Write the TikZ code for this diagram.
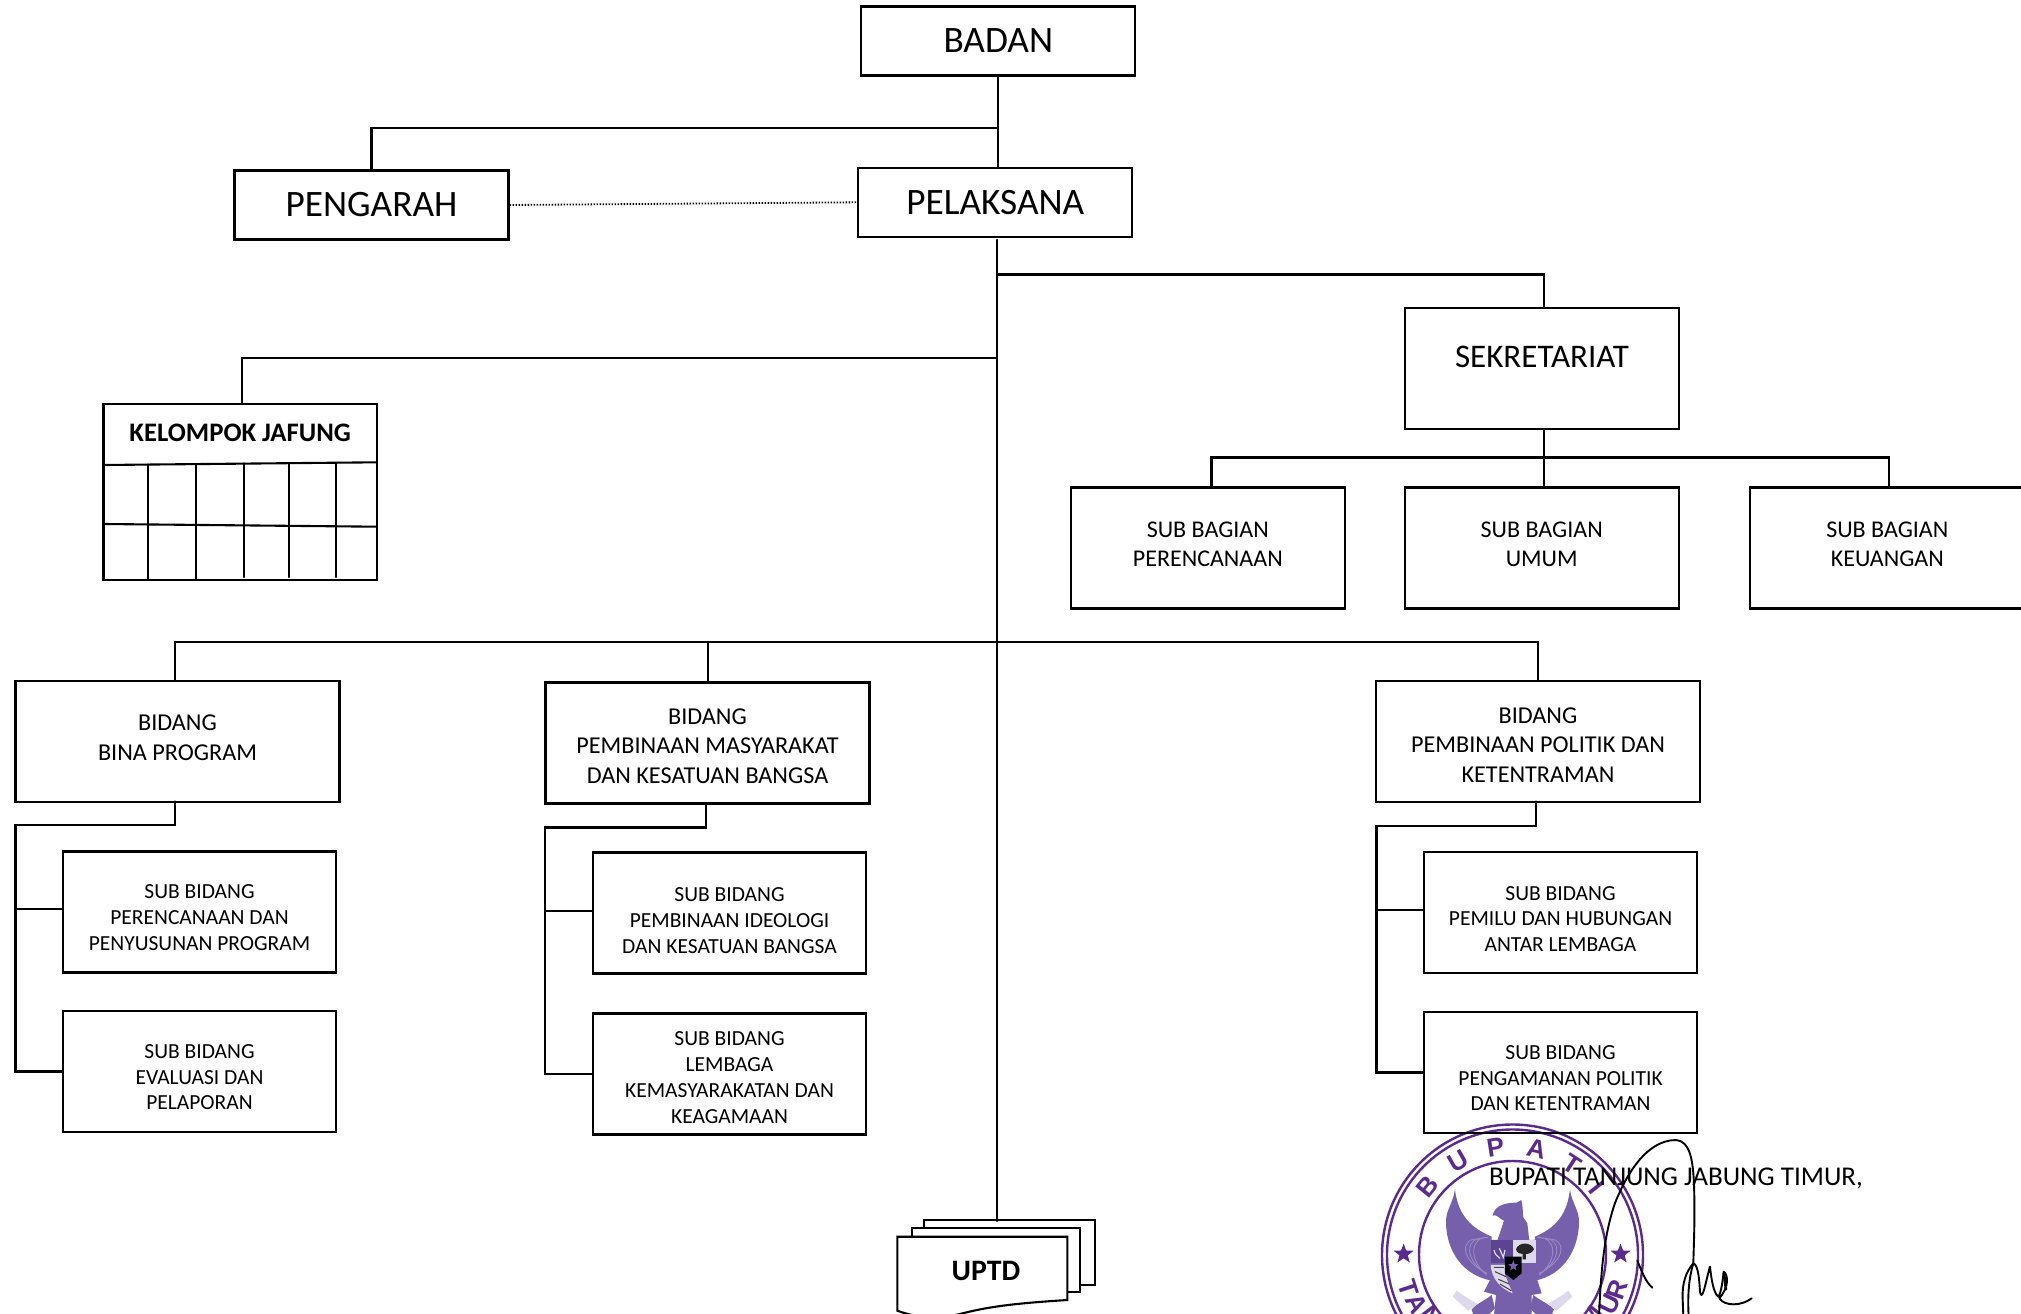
\documentclass[tikz,border=0pt]{standalone}
\usepackage{fontspec}
\setmainfont{Carlito}
\newfontfamily\sealfont{Liberation Sans}
\usetikzlibrary{shapes.geometric}
\definecolor{ringc}{HTML}{5A2A8C}
\definecolor{birdc}{HTML}{7660AC}
\definecolor{birdd}{HTML}{5B4592}
\definecolor{birdl}{HTML}{9A89C4}
\definecolor{ribc}{HTML}{DDD8EA}
\newcommand{\fs}[2]{\fontsize{#1}{#2}\selectfont}
\newcommand{\up}[2]{\smash{\raisebox{#1pt}{\begin{tabular}{@{}c@{}}#2\end{tabular}}}}
\tikzset{
  boxbase/.style={draw=black,line width=2.1pt,align=center,inner sep=0pt},
  bigbox/.style={boxbase,minimum width=274pt,minimum height=69pt,font=\fs{37.3}{44}},
  secbox/.style={boxbase,minimum width=274pt,minimum height=121pt,font=\fs{33}{38}},
  bagbox/.style={boxbase,minimum width=274pt,minimum height=121pt,font=\fs{24}{29.5}},
  bidbox/.style={boxbase,minimum width=324pt,minimum height=121pt,font=\fs{24.2}{29.5}},
  subbox/.style={boxbase,minimum width=273pt,minimum height=121pt,font=\fs{21.5}{25.8}},
  link/.style={draw=black,line width=2.1pt,line cap=round},
  dotlink/.style={draw=black,line width=1.8pt,dash pattern=on 1.5pt off 1.5pt},
  ring/.style={draw=ringc,line width=2.4pt},
  seall/.style={text=ringc,font=\sealfont\bfseries\fs{26}{26},inner sep=0pt},
  sealstar/.style={star,star points=5,star point ratio=2.4,fill=ringc,minimum size=21pt,inner sep=0pt},
  pagebox/.style={draw=black,line width=2.1pt,fill=white,line join=miter},
  ink/.style={draw=black,line width=1.9pt,line cap=round,line join=round},
  feather/.style={draw=birdl,line width=.9pt}
}
\begin{document}
\begin{tikzpicture}[x=1pt,y=-1pt]
\useasboundingbox (0,0) rectangle (2021,1314);
\clip (0,0) rectangle (2021,1314);
\fill[white] (0,0) rectangle (2021,1314);

% seal
\draw[ring] (1512.5,1255) circle (130.5pt);
\draw[ring] (1512.5,1255) circle (125.5pt);
\draw[ring] (1512.5,1254.5) circle (93.5pt);
\node[seall,rotate=51] (sb) at (1427.5,1186.7) {B};
\node[seall,rotate=30] (su) at (1457.9,1160.7) {U};
\node[seall,rotate=9] (sp) at (1495.4,1147.3) {P};
\node[seall,rotate=-13] (sa) at (1536.4,1149.3) {A};
\node[seall,rotate=-33] (st) at (1572,1164) {T};
\node[seall,rotate=-52] (si) at (1597,1188.3) {I};
\node[seall,rotate=-72] (st2) at (1408,1288) {T};
\node[seall,rotate=-63] (sa2) at (1417,1304) {A};
\node[seall,rotate=-53] (sn2) at (1431,1317) {N};
\node[seall,rotate=71] (sr2) at (1617,1290) {R};
\node[seall,rotate=64] (su2) at (1610,1304) {U};
\node[seall,rotate=52] (sm2) at (1592,1317) {M};
\node[sealstar] (s1) at (1403.6,1254) {};
\node[sealstar] (s2) at (1620.5,1254) {};

% eagle, in thirds of a pixel
\begin{scope}[x=0.33333pt,y=-0.33333pt,shift={(4260,3540)}]
\fill[birdc] (105,28) .. controls (100,70) and (76,90) .. (78,130) .. controls (80,210) and (125,285) .. (215,302) -- (215,170) .. controls (170,150) and (115,120) .. (105,28) -- cycle;
\fill[birdc] (450,28) .. controls (455,70) and (479,90) .. (477,130) .. controls (475,210) and (430,285) .. (345,302) -- (345,170) .. controls (390,150) and (440,120) .. (450,28) -- cycle;
\foreach \r in {0,14,28}{
  \draw[feather] (205+\r*-1,172+\r*.2) .. controls (150-\r,170) and (145-\r,240) .. (200,285-\r*.2);
  \draw[feather] (352+\r,172+\r*.2) .. controls (410+\r,170) and (415+\r,240) .. (358,285-\r*.2);
}
\fill[birdc] (218,107) .. controls (222,85) and (240,68) .. (290,68) -- (304,60) .. controls (310,85) and (308,105) .. (310,112) -- (322,130) -- (328,182) -- (232,182) -- (252,122) .. controls (240,118) and (228,100) .. (218,107) -- cycle;
\fill[birdc] (212,180) -- (348,180) -- (352,300) -- (365,340) -- (335,345) -- (335,405) -- (222,405) -- (228,345) -- (192,335) -- (210,300) -- cycle;
\fill[birdc] (155,388) .. controls (170,370) and (190,365) .. (215,345) -- (225,385) -- (205,405) -- (160,405) -- cycle;
\fill[birdc] (402,388) .. controls (385,370) and (365,365) .. (340,345) -- (330,385) -- (350,405) -- (395,405) -- cycle;
\fill[ribc] (98,350) -- (110,332) -- (128,345) -- (172,372) -- (145,392) -- cycle;
\fill[ribc] (457,350) -- (445,332) -- (428,345) -- (383,372) -- (410,392) -- cycle;
% shield
\fill[birdd] (212,180) -- (278,180) -- (278,250) -- (212,250) -- cycle;
\fill[ribc] (280,180) -- (348,180) -- (348,250) -- (280,250) -- cycle;
\fill[black!85] (288,208) .. controls (295,185) and (335,185) .. (342,208) .. controls (335,222) and (320,222) .. (318,222) -- (318,238) -- (308,238) -- (308,222) .. controls (300,222) and (292,220) .. (288,208) -- cycle;
\draw[ribc,line width=1.2pt] (222,210) .. controls (225,225) and (232,228) .. (240,235) (238,205) -- (250,232) -- (255,210);
\fill[ribc] (212,255) -- (255,255) -- (255,285) -- (278,340) .. controls (240,325) and (215,295) .. (212,255) -- cycle;
\draw[black!75,line width=1pt] (222,262) -- (252,262) (225,275) -- (258,290) (235,298) -- (268,312) (240,312) -- (274,332);
\fill[black] (255,230) -- (305,230) -- (305,280) -- (280,300) -- (255,280) -- cycle;
\node[star,star points=5,star point ratio=2.4,fill=birdc,inner sep=0pt,minimum size=11pt] (shstar) at (280,258) {};
\end{scope}

% signature
\draw[ink] (1599,1316) .. controls (1601,1270) and (1604,1235) .. (1615,1203) .. controls (1625,1178) and (1645,1140) .. (1676,1140) .. controls (1690,1141) and (1693,1160) .. (1694,1185) .. controls (1695,1215) and (1694,1240) .. (1693.3,1263.3);
\begin{scope}[x=0.33333pt,y=-0.33333pt,shift={(4800,3690)}]
\draw[ink] (280,100) .. controls (258,125) and (246,160) .. (248,205) -- (250,258);
\draw[ink] (266,258) .. controls (262,190) and (268,140) .. (280,100) .. controls (295,105) and (298,150) .. (300,185) .. controls (302,198) and (306,200) .. (312,180) .. controls (318,160) and (325,125) .. (330,110) .. controls (333,140) and (340,190) .. (355,200) .. controls (365,185) and (368,150) .. (371,125) .. controls (385,135) and (388,170) .. (358,205) .. controls (375,230) and (425,228) .. (455,205);
\draw[ink,line width=2.6pt] (372,130) -- (378,178);
\draw[ink] (112,92) .. controls (122,115) and (135,155) .. (157,173);
\end{scope}

% boxes
\node[bigbox] (badan) at (998.3,41) {\raisebox{-1pt}{BADAN}};
\node[bigbox] (pengarah) at (371.5,205) {PENGARAH};
\node[bigbox] (pelaksana) at (995.3,202.3) {PELAKSANA};
\node[secbox] (sekretariat) at (1542,368.8) {\up{3}{SEKRETARIAT}};
\node[boxbase,minimum width=273.5pt,minimum height=176pt,font=\bfseries\fs{26.7}{30}] (jafung) at (240.2,492) {\up{50}{KELOMPOK JAFUNG}};
\node[bagbox] (bag1) at (1207.8,548) {\up{-4.5}{SUB BAGIAN\\PERENCANAAN}};
\node[bagbox] (bag2) at (1541.7,548) {\up{-4.5}{SUB BAGIAN\\UMUM}};
\node[bagbox] (bag3) at (1887.3,548) {\up{-4.5}{SUB BAGIAN\\KEUANGAN}};
\node[bidbox] (bid1) at (177.5,741.5) {\up{-4.3}{BIDANG\\BINA PROGRAM}};
\node[bidbox] (bid2) at (707.5,743) {\up{-11}{BIDANG\\PEMBINAAN MASYARAKAT\\DAN KESATUAN BANGSA}};
\node[bidbox] (bid3) at (1538,741.5) {\up{-11.6}{BIDANG\\PEMBINAAN POLITIK DAN\\KETENTRAMAN}};
\node[subbox] (s11) at (199.5,912) {\up{-12.7}{SUB BIDANG\\PERENCANAAN DAN\\PENYUSUNAN PROGRAM}};
\node[subbox] (s12) at (199.5,1071.5) {\up{-12.7}{SUB BIDANG\\EVALUASI DAN\\PELAPORAN}};
\node[subbox] (s21) at (729.5,913) {\up{-14.5}{SUB BIDANG\\PEMBINAAN IDEOLOGI\\DAN KESATUAN BANGSA}};
\node[subbox] (s22) at (729.5,1074) {\up{-10.5}{SUB BIDANG\\LEMBAGA\\KEMASYARAKATAN DAN\\KEAGAMAAN}};
\node[subbox] (s31) at (1560.5,912.5) {\up{-13.4}{SUB BIDANG\\PEMILU DAN HUBUNGAN\\ANTAR LEMBAGA}};
\node[subbox] (s32) at (1560.5,1072.5) {\up{-12.7}{SUB BIDANG\\PENGAMANAN POLITIK\\DAN KETENTRAMAN}};

% kelompok jafung grid
\coordinate (g1l) at (104,465); \coordinate (g1r) at (377,462.3);
\coordinate (g2l) at (104,524); \coordinate (g2r) at (377,526.7);
\draw[link] (g1l) -- (g1r);
\draw[link] (g2l) -- (g2r);
\draw[link] (147.7,464.5) -- (147.7,580);
\draw[link] (196,464) -- (196,580);
\draw[link] (244,463.5) -- (244,577);
\draw[link] (289.3,463) -- (289.3,577);
\draw[link] (336,463) -- (336,577);

% uptd pages
\draw[pagebox] (924.3,1220) rectangle (1095,1285);
\draw[pagebox] (911.7,1228) rectangle (1080,1292);
\draw[pagebox] (897.3,1236.7) -- (1067.3,1236.7) -- (1067.3,1300) .. controls (1020,1303) and (990,1306) .. (960,1314) .. controls (935,1320) and (915,1317) .. (897.3,1310.7) -- cycle;
\node[font=\bfseries\fs{29.7}{32},inner sep=0pt] (uptd) at (986,1271) {UPTD};
\coordinate (uptdtop) at (997,1221);

% connectors
\coordinate (j1) at (997.6,127.6);
\coordinate (trunk) at (997,240);
\coordinate (j2) at (997,274.5);
\coordinate (j3) at (997,358);
\draw[link] (badan.south) -- (badan.south |- pelaksana.north);
\draw[link] (j1) -- (pengarah.north |- j1) -- (pengarah.north);
\draw[dotlink] (pengarah.east) -- (pelaksana.west);
\draw[link] (trunk) -- (uptdtop);
\draw[link] (j2) -- (1544,274.5) -- (1544,308);
\draw[link] (j3) -- (242.3,358) -- (242.3,404);
\draw[link] (1544,429) -- (1544,487);
\draw[link] (1211.5,487) -- (1211.5,457.5) -- (1889,457.5) -- (1889,487);
\draw[link] (175,680.5) -- (175,642) -- (1537.6,642) -- (1537.6,680.5);
\draw[link] (707.6,642) -- (707.6,682);
\draw[link] (175,801.5) -- (175,825) -- (15.5,825) -- (15.5,1071.5) -- (s12.west);
\draw[link] (15.5,909) -- (s11.west |- 0,909);
\draw[link] (706,803) -- (706,827.5) -- (545,827.5) -- (545,1074) -- (s22.west);
\draw[link] (545,911) -- (s21.west |- 0,911);
\draw[link] (1536,801.5) -- (1536,826) -- (1376.5,826) -- (1376.5,1072.5) -- (s32.west);
\draw[link] (1376.5,910) -- (s31.west |- 0,910);

\node[font=\fs{27.1}{30},inner sep=0pt,anchor=west] (bupati) at (1489,1178) {BUPATI TANJUNG JABUNG TIMUR,};
\end{tikzpicture}
\end{document}
